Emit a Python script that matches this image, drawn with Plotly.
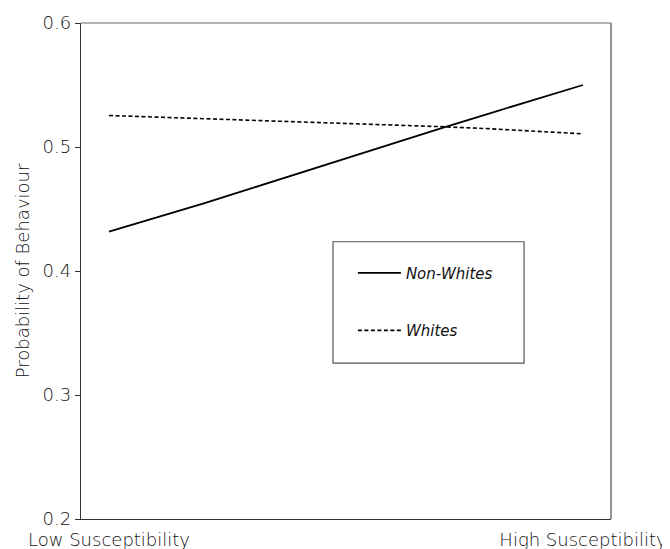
import plotly.graph_objects as go

# Data
susceptibility = [0.0, 0.1, 0.2, 0.3, 0.4, 0.5, 0.6, 0.7, 0.8, 0.9, 1.0]
non_whites = [0.4317, 0.4428, 0.4545, 0.4666, 0.4787, 0.4912, 0.5034, 0.5151, 0.5268, 0.5381, 0.5500]
whites = [0.5254, 0.5242, 0.5230, 0.5218, 0.5205, 0.5192, 0.5178, 0.5164, 0.5148, 0.5128, 0.5106]
x_tick_vals = [0.0, 1.0]
x_tick_text = ["Low Susceptibility", "High Susceptibility"]
y_tick_vals = [0.2, 0.3, 0.4, 0.5, 0.6]

FONT = "DejaVu Sans"
TXT = "#111111"
W = 300

fig = go.Figure()
fig.add_trace(go.Scatter(
    x=susceptibility, y=non_whites, mode="lines", name="Non-Whites",
    line=dict(color="black", width=1.8), legendgroup="a",
))
fig.add_trace(go.Scatter(
    x=susceptibility, y=whites, mode="lines", name="Whites",
    line=dict(color="black", width=1.6, dash="4px,2.5px"), legendgroup="b",
))

pad = 0.0591
fig.update_layout(
    width=662, height=541,
    margin=dict(l=73, r=59, t=15, b=30, autoexpand=False),
    paper_bgcolor="white", plot_bgcolor="white",
    font=dict(family=FONT, size=18, color=TXT, weight=W),
    showlegend=True,
    legend=dict(
        x=0.513, y=0.529, xanchor="left", yanchor="top",
        bgcolor="rgba(0,0,0,0)", borderwidth=0,
        font=dict(family=FONT, size=15, color=TXT, style="italic", weight=W),
        tracegroupgap=35, itemwidth=43,
    ),
    xaxis=dict(
        range=[-pad, 1 + pad], tickmode="array", tickvals=x_tick_vals,
        ticktext=x_tick_text, showgrid=False, zeroline=False, automargin=False,
        showline=True, linecolor="#333333", linewidth=1.3, ticks="",
        tickfont=dict(family=FONT, size=18, color=TXT, weight=W),
        ticklabelstandoff=4,
    ),
    yaxis=dict(
        range=[0.2, 0.6], tickmode="array", tickvals=y_tick_vals,
        tickformat=".1f", showgrid=False, zeroline=False, automargin=False,
        showline=True, linecolor="#333333", linewidth=1.3,
        ticks="outside", ticklen=5, tickcolor="#333333", tickwidth=1,
        tickfont=dict(family=FONT, size=18, color=TXT, weight=W),
        title=dict(text="Probability of Behaviour", standoff=8,
                   font=dict(family=FONT, size=18, color=TXT, weight=W)),
    ),
    shapes=[
        dict(type="line", xref="paper", yref="paper", x0=0, x1=1, y0=1, y1=1,
             line=dict(color="#999999", width=1.6)),
        dict(type="line", xref="paper", yref="paper", x0=1, x1=1, y0=0, y1=1,
             line=dict(color="#888888", width=1.8)),
        dict(type="rect", xref="paper", yref="paper", x0=0.4755, x1=0.836,
             y0=0.3143, y1=0.559, line=dict(color="#555555", width=1.2)),
    ],
)

fig.write_html("out.html")
